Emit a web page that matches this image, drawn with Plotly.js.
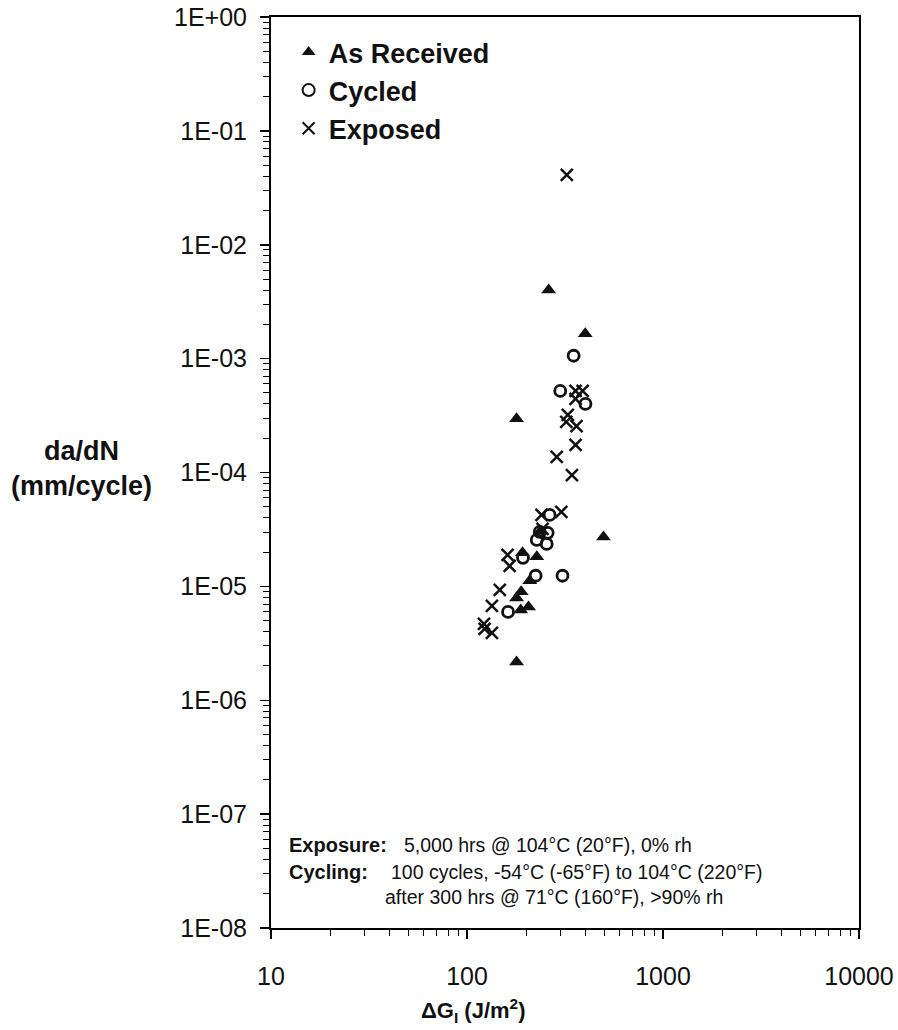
<!DOCTYPE html>
<html>
<head>
<meta charset="utf-8">
<script src="https://cdn.plot.ly/plotly-3.0.1.min.js"></script>
<style>html,body{margin:0;padding:0;background:#fff;}#chart{width:898px;height:1030px;}</style>
</head>
<body>
<div id="chart"></div>
<script>
// ---- data ----
const asReceivedX = [261, 401, 179, 497, 192, 227, 209, 189, 179, 188, 206, 179, 237];
const asReceivedY = [4.0e-3, 1.65e-3, 2.96e-4, 2.72e-5, 1.97e-5, 1.82e-5, 1.12e-5, 8.95e-6, 7.9e-6, 6.2e-6, 6.6e-6, 2.17e-6, 3.07e-5];

const cycledX = [350, 299, 402, 264, 258, 235, 227, 255, 193, 224, 307, 162];
const cycledY = [1.06e-3, 5.2e-4, 4.0e-4, 4.24e-5, 2.95e-5, 3.01e-5, 2.56e-5, 2.36e-5, 1.78e-5, 1.24e-5, 1.24e-5, 5.97e-6];

const exposedX = [323, 358, 389, 358, 327, 321, 362, 358, 287, 343, 240, 303, 161, 165, 147, 134, 122, 123, 134, 243];
const exposedY = [4.1e-2, 5.2e-4, 5.2e-4, 4.43e-4, 3.2e-4, 2.78e-4, 2.56e-4, 1.75e-4, 1.37e-4, 9.5e-5, 4.24e-5, 4.51e-5, 1.89e-5, 1.51e-5, 9.3e-6, 6.74e-6, 4.69e-6, 4.23e-6, 3.9e-6, 3.2e-5];

const xTickVals = [10, 100, 1000, 10000];
const xTickText = ['10', '100', '1000', '10000'];
const yTickVals = [1, 1e-1, 1e-2, 1e-3, 1e-4, 1e-5, 1e-6, 1e-7, 1e-8];
const yTickText = ['1E+00', '1E-01', '1E-02', '1E-03', '1E-04', '1E-05', '1E-06', '1E-07', '1E-08'];

const seriesNames = ['As Received', 'Cycled', 'Exposed'];
// ---------------------------------------

const FONT = 'Liberation Sans, Arial, Helvetica, sans-serif';

const traces = [
  {
    x: asReceivedX, y: asReceivedY, name: seriesNames[0], type: 'scatter', mode: 'markers',
    marker: {symbol: 'triangle-up', size: 13, color: '#111', line: {width: 0}}
  },
  {
    x: cycledX, y: cycledY, name: seriesNames[1], type: 'scatter', mode: 'markers',
    marker: {symbol: 'circle-open', size: 11, color: '#111', line: {width: 2.8, color: '#111'}}
  },
  {
    x: exposedX, y: exposedY, name: seriesNames[2], type: 'scatter', mode: 'markers',
    marker: {symbol: 'x-thin-open', size: 12, color: '#111', line: {width: 2.5, color: '#111'}}
  }
];

const axisCommon = {
  type: 'log',
  showgrid: false,
  zeroline: false,
  showline: true,
  linecolor: '#000',
  linewidth: 2,
  mirror: true,
  ticks: 'outside',
  ticklen: 9,
  tickwidth: 1.5,
  tickcolor: '#000',
  tickmode: 'array',
  tickfont: {family: FONT, size: 25, color: '#111'},
  minor: {ticks: 'outside', ticklen: 6, tickwidth: 1, tickcolor: '#000', dtick: 'D1', showgrid: false}
};

const layout = {
  width: 898,
  height: 1030,
  margin: {l: 271, r: 39, t: 17, b: 102},
  paper_bgcolor: '#fff',
  plot_bgcolor: '#fff',
  font: {family: FONT, color: '#111'},
  showlegend: true,
  legend: {
    x: 0.03, y: 0.988, xanchor: 'left', yanchor: 'top',
    bgcolor: 'rgba(0,0,0,0)', borderwidth: 0,
    font: {family: FONT, size: 27, color: '#111', weight: 'bold'},
    itemsizing: 'constant', tracegroupgap: 0
  },
  xaxis: Object.assign({}, axisCommon, {
    range: [1, 4], tickvals: xTickVals, ticktext: xTickText, ticklabelstandoff: 16
  }),
  yaxis: Object.assign({}, axisCommon, {
    range: [-8, 0], tickvals: yTickVals, ticktext: yTickText, ticklabelstandoff: 8
  }),
  xaxis2: {
    type: 'log', range: [1, 4], overlaying: 'x', anchor: 'y', side: 'bottom',
    showgrid: false, zeroline: false, showline: false, showticklabels: false,
    ticks: 'inside', ticklen: 8, tickwidth: 1.5, tickcolor: '#000',
    tickmode: 'array', tickvals: xTickVals
  },
  yaxis2: {
    type: 'log', range: [-8, 0], overlaying: 'y', anchor: 'x', side: 'left',
    showgrid: false, zeroline: false, showline: false, showticklabels: false,
    ticks: 'inside', ticklen: 8, tickwidth: 1.5, tickcolor: '#000',
    tickmode: 'array', tickvals: yTickVals
  },
  annotations: [
    {text: 'da/dN<br>(mm/cycle)', xref: 'paper', yref: 'paper', x: -0.323, y: 0.5045, xanchor: 'center', yanchor: 'middle',
     align: 'center', showarrow: false, font: {family: FONT, size: 27, color: '#111', weight: 'bold'}},
    {text: '\u0394G<sub>I</sub> (J/m<sup>2</sup>)', xref: 'paper', yref: 'paper', x: (473 - 271) / 588, y: -0.091,
     xanchor: 'center', yanchor: 'middle', showarrow: false,
     font: {family: FONT, size: 22, color: '#111', weight: 'bold'}},
    {text: 'Exposure:', xref: 'paper', yref: 'paper', x: 0.027, y: 0.0915, xanchor: 'left', yanchor: 'middle',
     showarrow: false, font: {family: FONT, size: 20, color: '#111', weight: 'bold'}},
    {text: '5,000 hrs @ 104\u00B0C (20\u00B0F), 0% rh', xref: 'paper', yref: 'paper', x: 0.222, y: 0.0915,
     xanchor: 'left', yanchor: 'middle', showarrow: false, font: {family: FONT, size: 19.5, color: '#111'}},
    {text: 'Cycling:', xref: 'paper', yref: 'paper', x: 0.027, y: 0.0618, xanchor: 'left', yanchor: 'middle',
     showarrow: false, font: {family: FONT, size: 20, color: '#111', weight: 'bold'}},
    {text: '100 cycles, -54\u00B0C (-65\u00B0F) to 104\u00B0C (220\u00B0F)', xref: 'paper', yref: 'paper', x: 0.2, y: 0.0618,
     xanchor: 'left', yanchor: 'middle', showarrow: false, font: {family: FONT, size: 19.5, color: '#111'}},
    {text: 'after 300 hrs @ 71\u00B0C (160\u00B0F), >90% rh', xref: 'paper', yref: 'paper', x: 0.19, y: 0.0335,
     xanchor: 'left', yanchor: 'middle', showarrow: false, font: {family: FONT, size: 19.5, color: '#111'}}
  ]
};

Plotly.newPlot('chart', traces, layout, {displayModeBar: false, staticPlot: true});
</script>
</body>
</html>
